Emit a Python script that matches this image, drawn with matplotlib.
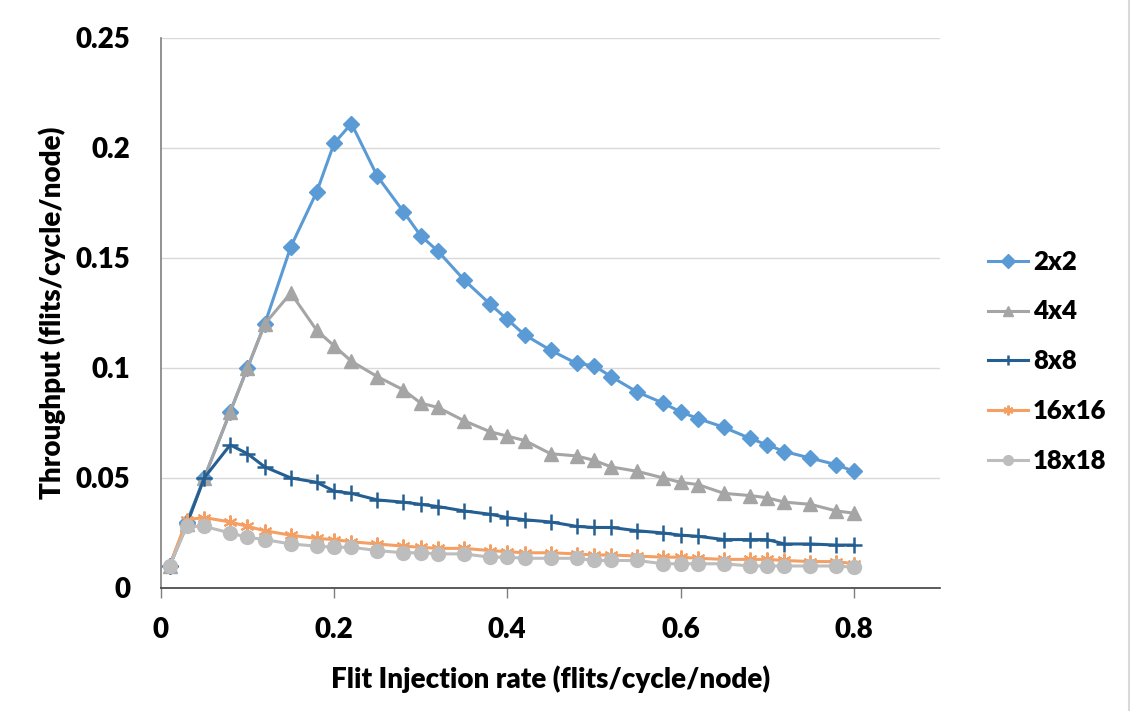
import matplotlib.pyplot as plt
from matplotlib.lines import Line2D
from matplotlib.ticker import FuncFormatter

# injection rates (flits/cycle/node)
rate = [0.01, 0.03, 0.05, 0.08, 0.10, 0.12, 0.15, 0.18, 0.20, 0.22, 0.25,
        0.28, 0.30, 0.32, 0.35, 0.38, 0.40, 0.42, 0.45, 0.48, 0.50, 0.52,
        0.55, 0.58, 0.60, 0.62, 0.65, 0.68, 0.70, 0.72, 0.75, 0.78, 0.80]

# throughput per mesh size
mesh_2x2 = [0.010, 0.030, 0.050, 0.080, 0.100, 0.120, 0.155, 0.180, 0.202, 0.211, 0.187,
            0.171, 0.160, 0.153, 0.140, 0.129, 0.122, 0.115, 0.108, 0.102, 0.101, 0.096,
            0.089, 0.084, 0.080, 0.077, 0.073, 0.068, 0.065, 0.062, 0.059, 0.056, 0.053]
mesh_4x4 = [0.010, 0.029, 0.050, 0.080, 0.100, 0.120, 0.134, 0.117, 0.110, 0.103, 0.096,
            0.090, 0.084, 0.082, 0.076, 0.071, 0.069, 0.067, 0.061, 0.060, 0.058, 0.055,
            0.053, 0.050, 0.048, 0.047, 0.043, 0.042, 0.041, 0.039, 0.038, 0.035, 0.034]
mesh_8x8 = [0.010, 0.029, 0.050, 0.065, 0.061, 0.055, 0.050, 0.048, 0.044, 0.043, 0.040,
            0.039, 0.038, 0.037, 0.035, 0.0335, 0.032, 0.031, 0.030, 0.028, 0.0275, 0.0275,
            0.026, 0.025, 0.024, 0.0235, 0.022, 0.022, 0.022, 0.020, 0.020, 0.0195, 0.0195]
mesh_16x16 = [0.010, 0.031, 0.032, 0.030, 0.028, 0.026, 0.024, 0.0225, 0.022, 0.021, 0.020,
              0.019, 0.0185, 0.018, 0.018, 0.017, 0.0165, 0.016, 0.016, 0.0155, 0.015, 0.015,
              0.0145, 0.014, 0.014, 0.0135, 0.013, 0.013, 0.013, 0.0125, 0.012, 0.012, 0.011]
mesh_18x18 = [0.010, 0.028, 0.028, 0.025, 0.023, 0.022, 0.020, 0.019, 0.0185, 0.0185, 0.017,
              0.016, 0.016, 0.0155, 0.0155, 0.014, 0.014, 0.0135, 0.0135, 0.0135, 0.0125, 0.0125,
              0.0125, 0.011, 0.011, 0.011, 0.011, 0.010, 0.010, 0.010, 0.010, 0.010, 0.0094]

labels = ['2x2', '4x4', '8x8', '16x16', '18x18']
colors = ['#5B9BD5', '#A5A5A5', '#255E91', '#F4A064', '#BDBDBD']

plt.rcParams['font.family'] = ['Lato', 'DejaVu Sans']
plt.rcParams['font.weight'] = 'heavy'
FS = 20

fig = plt.figure(figsize=(11.33, 7.11), dpi=100)
ax = fig.add_axes([0.142, 0.173, 0.688, 0.774])

series = [mesh_2x2, mesh_4x4, mesh_8x8, mesh_16x16, mesh_18x18]
styles = [dict(marker='D', ms=8),
          dict(marker='^', ms=10),
          dict(marker='+', ms=11, mew=1.8),
          dict(marker=(6, 2, 0), ms=10, mew=1.5),
          dict(marker='o', ms=10)]
for y, lab, c, st in zip(series, labels, colors, styles):
    ax.plot(rate, y, color=c, lw=2.2, label=lab, mec=c, mfc=c, **st)

ax.set_xlim(0, 0.9)
ax.set_ylim(0, 0.25)
ax.set_xticks([0, 0.2, 0.4, 0.6, 0.8])
ax.set_yticks([0, 0.05, 0.1, 0.15, 0.2, 0.25])
fmt = FuncFormatter(lambda v, p: '%g' % round(v, 3))
ax.xaxis.set_major_formatter(fmt)
ax.yaxis.set_major_formatter(fmt)
ax.tick_params(axis='x', length=7, width=1, color='#7f7f7f', pad=14, labelsize=FS)
ax.tick_params(axis='y', length=0, pad=22, labelsize=FS)
ax.grid(axis='y', color='#d9d9d9', lw=1)
ax.set_axisbelow(True)
for s in ['top', 'right']:
    ax.spines[s].set_visible(False)
ax.spines['left'].set_color('#7f7f7f')
ax.spines['bottom'].set_color('#404040')
ax.spines['left'].set_linewidth(1.2)
ax.spines['bottom'].set_linewidth(1.2)

ax.set_xlabel('Flit Injection rate (flits/cycle/node)', fontsize=FS, fontweight='heavy', labelpad=16)
ax.set_ylabel('Throughput (flits/cycle/node)', fontsize=FS, fontweight='heavy', labelpad=7)

leg = ax.legend(loc='center left', bbox_to_anchor=(0.856, 0.492), bbox_transform=fig.transFigure,
                frameon=False, fontsize=18.5, handlelength=1.55, handletextpad=0.2,
                labelspacing=1.0, borderpad=0.2)
for h in leg.legend_handles:
    h.set_markersize(7)

fig.add_artist(Line2D([0.9965, 0.9965], [0, 1], transform=fig.transFigure, color='#d9d9d9', lw=1.5))

fig.savefig('out.png', dpi=100)
